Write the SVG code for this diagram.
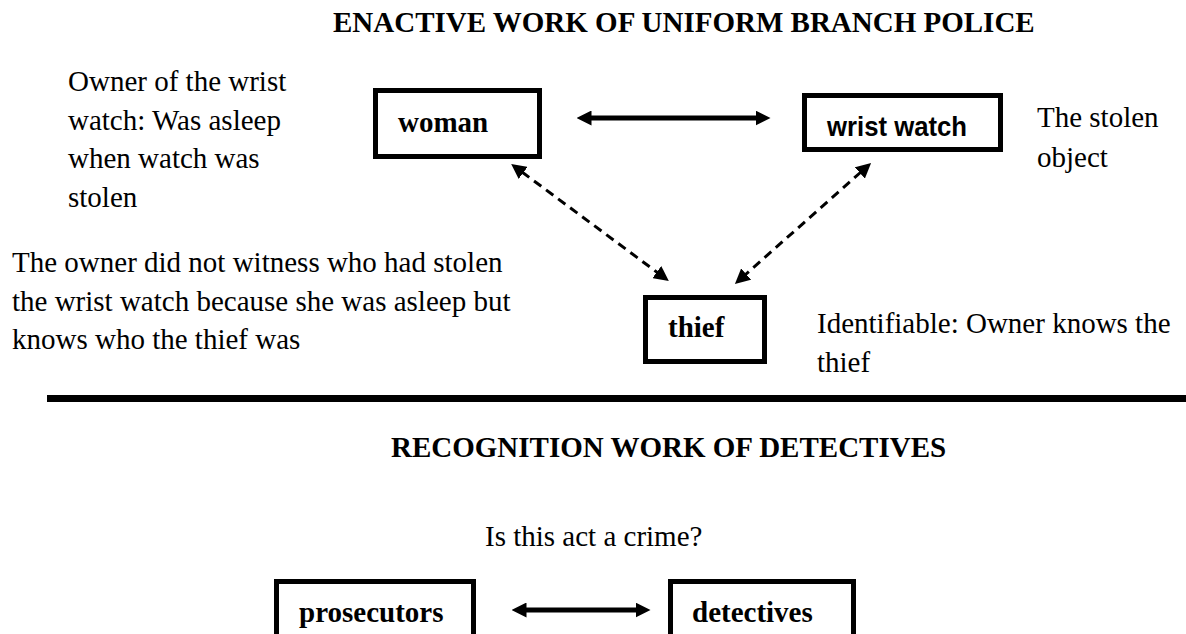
<svg xmlns="http://www.w3.org/2000/svg" width="1186" height="634" viewBox="0 0 1186 634">
  <style>
    .title { font-family: "Liberation Serif", "Times New Roman", serif; font-weight: bold; font-size: 29px; fill: #000; }
    .note { font-family: "Liberation Serif", "Times New Roman", serif; font-size: 29px; fill: #000; }
    .label { font-family: "Liberation Serif", "Times New Roman", serif; font-weight: bold; font-size: 29px; fill: #000; }
    .label-sans { font-family: "Liberation Sans", Arial, sans-serif; font-weight: bold; font-size: 27px; fill: #000; }
    .box { fill: #fff; stroke: #000; stroke-width: 5; }
    .solid { stroke: #000; stroke-width: 5; fill: none; }
    .dashed { stroke: #000; stroke-width: 3; stroke-dasharray: 9 6; fill: none; }
  </style>
  <defs>
    <marker id="headSolid" viewBox="0 0 10 10" refX="1" refY="5" markerWidth="3" markerHeight="3" orient="auto-start-reverse" markerUnits="strokeWidth">
      <path d="M0,0 L10,5 L0,10 z" fill="#000"/>
    </marker>
    <marker id="headDash" viewBox="0 0 10 10" refX="1" refY="5" markerWidth="5" markerHeight="5" orient="auto-start-reverse" markerUnits="strokeWidth">
      <path d="M0,0 L10,5 L0,10 z" fill="#000"/>
    </marker>
  </defs>

  <rect width="1186" height="634" fill="#fff"/>

  <!-- upper section: uniform branch -->
  <text class="title" x="333" y="32">ENACTIVE WORK OF UNIFORM BRANCH POLICE</text>

  <text class="note" x="68" y="91">Owner of the wrist</text>
  <text class="note" x="68" y="129.5">watch: Was asleep</text>
  <text class="note" x="68" y="168">when watch was</text>
  <text class="note" x="68" y="206.5">stolen</text>

  <text class="note" x="1037" y="127">The stolen</text>
  <text class="note" x="1037" y="166.5">object</text>

  <text class="note" x="12" y="272">The owner did not witness who had stolen</text>
  <text class="note" x="12" y="310.5">the wrist watch because she was asleep but</text>
  <text class="note" x="12" y="349">knows who the thief was</text>

  <text class="note" x="817" y="333">Identifiable: Owner knows the</text>
  <text class="note" x="817" y="372">thief</text>

  <g id="connectors">
    <line class="solid" x1="590" y1="118" x2="757" y2="118" marker-start="url(#headSolid)" marker-end="url(#headSolid)"/>
    <line class="dashed" x1="522" y1="172" x2="658" y2="273" marker-start="url(#headDash)" marker-end="url(#headDash)"/>
    <line class="dashed" x1="861" y1="172" x2="745" y2="275" marker-start="url(#headDash)" marker-end="url(#headDash)"/>
    <line class="solid" x1="525" y1="610" x2="637" y2="610" marker-start="url(#headSolid)" marker-end="url(#headSolid)"/>
  </g>

  <g id="woman">
    <rect class="box" x="375.5" y="90.5" width="164" height="66"/>
    <text class="label" x="398" y="132">woman</text>
  </g>

  <g id="wrist-watch">
    <rect class="box" x="804.5" y="95.5" width="196" height="54"/>
    <text class="label-sans" x="827" y="136" textLength="140" lengthAdjust="spacingAndGlyphs">wrist watch</text>
  </g>

  <g id="thief">
    <rect class="box" x="645.5" y="297.5" width="119" height="64"/>
    <text class="label" x="668" y="337">thief</text>
  </g>

  <!-- divider -->
  <rect x="47" y="395" width="1139" height="7" fill="#000"/>

  <!-- lower section: detectives -->
  <text class="title" x="391" y="457">RECOGNITION WORK OF DETECTIVES</text>

  <text class="note" x="485" y="546">Is this act a crime?</text>

  <g id="prosecutors">
    <rect class="box" x="276.5" y="581.5" width="197" height="70"/>
    <text class="label" x="299" y="622">prosecutors</text>
  </g>

  <g id="detectives">
    <rect class="box" x="670.5" y="581.5" width="183" height="70"/>
    <text class="label" x="692" y="622">detectives</text>
  </g>
</svg>
